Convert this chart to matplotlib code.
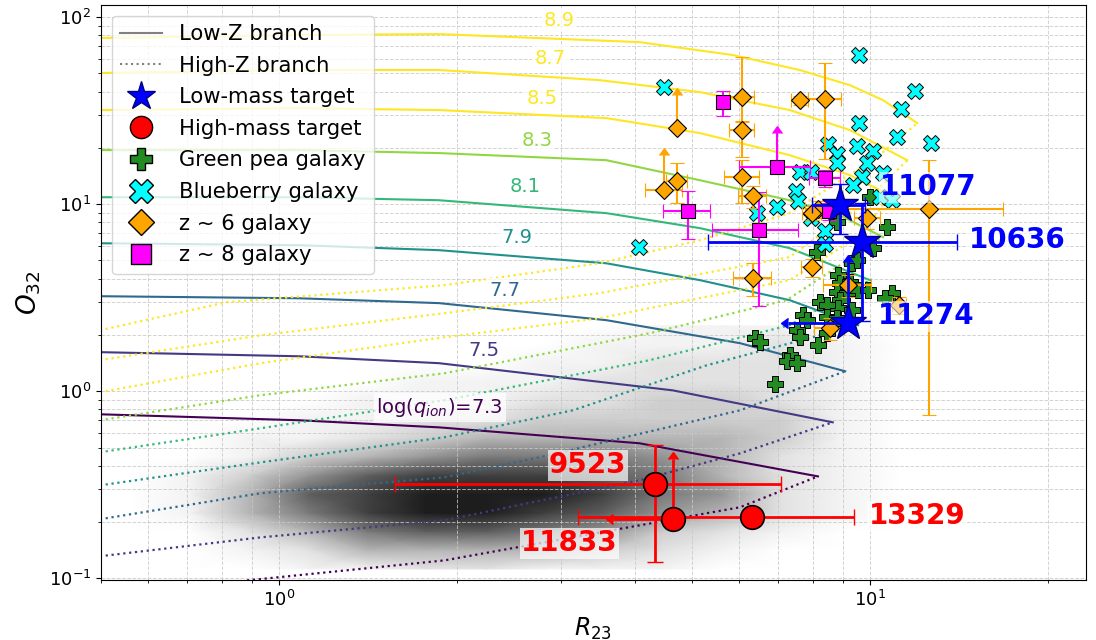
import numpy as np
import matplotlib
matplotlib.use("Agg")
import matplotlib.pyplot as plt
from matplotlib.lines import Line2D
from matplotlib.colors import Normalize

# ---------------- model grid (log values) ----------------
qion = [7.3, 7.5, 7.7, 7.9, 8.1, 8.3, 8.5, 8.7, 8.9]

lowz_logR23 = [
    [-0.303, 0.034, 0.271, 0.610, 0.912],
    [-0.303, 0.034, 0.271, 0.666, 0.937],
    [-0.303, 0.034, 0.271, 0.554, 0.780, 0.958],
    [-0.303, 0.034, 0.271, 0.554, 0.712, 0.864, 0.980],
    [-0.303, 0.034, 0.271, 0.554, 0.712, 0.864, 1.000],
    [-0.303, 0.034, 0.271, 0.554, 0.712, 0.864, 0.949, 1.022],
    [-0.303, 0.034, 0.271, 0.554, 0.712, 0.864, 0.966, 1.034],
    [-0.303, 0.034, 0.271, 0.542, 0.712, 0.864, 0.966, 1.063],
    [-0.303, 0.034, 0.271, 0.610, 0.768, 0.881, 0.966, 1.022, 1.080],
]
lowz_logO32 = [
    [-0.123, -0.155, -0.193, -0.278, -0.455],
    [0.209, 0.187, 0.150, 0.005, -0.166],
    [0.508, 0.497, 0.471, 0.380, 0.257, 0.107],
    [0.791, 0.781, 0.754, 0.684, 0.594, 0.487, 0.353],
    [1.037, 1.037, 1.021, 0.952, 0.872, 0.765, 0.594],
    [1.289, 1.289, 1.273, 1.235, 1.128, 1.021, 0.941, 0.824],
    [1.503, 1.513, 1.503, 1.460, 1.380, 1.262, 1.155, 1.048],
    [1.701, 1.717, 1.717, 1.663, 1.599, 1.503, 1.396, 1.235],
    [1.888, 1.904, 1.909, 1.866, 1.797, 1.717, 1.636, 1.556, 1.433],
]
highz_logR23 = [
    [-0.054, 0.280, 0.780, 0.912],
    [-0.303, -0.031, 0.280, 0.610, 0.780, 0.937],
    [-0.303, -0.031, 0.280, 0.441, 0.780, 0.958],
    [-0.303, -0.031, 0.280, 0.497, 0.724, 0.980],
    [-0.303, -0.031, 0.280, 0.627, 0.864, 1.000],
    [-0.303, -0.031, 0.280, 0.627, 0.859, 1.022],
    [-0.303, -0.031, 0.280, 0.542, 0.864, 0.983, 1.034],
    [-0.303, -0.031, 0.280, 0.542, 0.864, 0.995, 1.063],
    [-0.303, -0.088, 0.280, 0.542, 0.712, 0.864, 1.012, 1.080],
]
highz_logO32 = [
    [-1.011, -0.904, -0.620, -0.455],
    [-0.882, -0.781, -0.690, -0.476, -0.332, -0.166],
    [-0.684, -0.545, -0.460, -0.353, -0.102, 0.107],
    [-0.503, -0.380, -0.246, -0.102, 0.139, 0.353],
    [-0.326, -0.198, -0.048, 0.166, 0.353, 0.594],
    [-0.155, -0.021, 0.096, 0.310, 0.487, 0.824],
    [-0.005, 0.150, 0.289, 0.390, 0.594, 0.834, 1.048],
    [0.166, 0.299, 0.417, 0.524, 0.717, 1.021, 1.235],
    [0.326, 0.476, 0.567, 0.684, 0.807, 0.952, 1.251, 1.433],
]
label_R23 = [1.87, 2.22, 2.41, 2.53, 2.61, 2.73, 2.79, 2.88, 2.98]
label_O32 = [0.82, 1.66, 3.47, 6.66, 12.5, 22.0, 36.9, 60.4, 96.4]

# ---------------- SDSS-like background density (log R23 / log O32 cell centres) ----------------
hist_logR23 = [-0.25, -0.15, -0.05, 0.05, 0.15, 0.25, 0.35, 0.45, 0.55, 0.65, 0.75, 0.85, 0.95, 1.05, 1.15]
hist_logO32 = [-0.95, -0.85, -0.75, -0.65, -0.55, -0.45, -0.35, -0.25, -0.15, -0.05, 0.05, 0.15, 0.25, 0.35]
hist_rows = [
    "000112211100000",
    "001244443210000",
    "002467765321000",
    "014689987542100",
    "014789998652100",
    "013578887642100",
    "001345666542100",
    "001123444443100",
    "000112233333100",
    "000011122332100",
    "000001112222100",
    "000000011222100",
    "000000001112100",
    "000000000111000",
]

# ---------------- Green pea galaxies ----------------
gp_R23 = [8.13, 10.7, 10.1, 9.32, 9.50, 8.83, 8.89, 9.25, 8.79, 9.14, 9.55, 9.93, 8.89, 8.83,
          8.23, 8.46, 9.32, 7.70, 7.82, 8.45, 8.79, 7.52, 7.61, 8.17, 8.46, 6.38, 6.51, 7.31,
          7.23, 7.52, 6.90, 10.9, 10.0, 8.79, 10.6]
gp_O32 = [5.54, 7.53, 5.82, 4.83, 5.02, 4.17, 3.78, 3.83, 3.38, 3.34, 3.47, 3.47, 3.07, 2.78,
          2.99, 2.88, 2.71, 2.55, 2.40, 2.49, 2.46, 2.12, 1.94, 1.76, 2.04, 1.92, 1.83, 1.56,
          1.46, 1.41, 1.10, 3.34, 10.9, 8.01, 3.14]

# ---------------- Blueberry galaxies ----------------
bb_R23 = [4.48, 4.06, 9.6, 11.9, 11.3, 9.6, 11.1, 12.7, 8.5, 9.5, 10.1, 8.8, 8.8, 9.9,
          9.7, 9.35, 10.5, 7.6, 7.95, 7.5, 7.55, 6.95, 6.45, 7.95, 8.4, 8.4, 10.4, 10.9]
bb_O32 = [42.2, 5.89, 62.6, 40.2, 32.2, 27.1, 22.8, 21.2, 20.9, 20.4, 19.2, 18.5, 16.6, 16.6,
          13.9, 12.6, 14.7, 14.8, 14.8, 11.7, 10.4, 9.6, 8.95, 8.4, 7.2, 6.1, 10.9, 10.5]

# ---------------- z ~ 6 galaxies ----------------
z6_R23 = [6.07, 6.07, 6.07, 6.33, 7.61, 8.39, 4.71, 4.48, 4.71, 6.33, 7.97, 8.16, 7.97, 9.88, 9.18, 8.55, 12.6, 11.2]
z6_O32 = [37.3, 24.9, 13.9, 11.0, 36.0, 36.3, 25.5, 11.9, 13.3, 4.02, 4.60, 9.40, 9.00, 8.40, 3.69, 2.17, 9.45, 2.88]
z6_xerr = [0.30, 0.30, 0.41, 0.35, 0.25, 0.55, 0.0, 0.32, 0.20, 0.46, 0.34, 0.40, 0.30, 0.50, 0.85, 0.50, 4.2, 0.30]
z6_yerr_lo = [9.8, 7.1, 3.7, 1.5, 2.0, 18.9, 0.0, 0.0, 3.2, 0.8, 0.5, 1.0, 0.8, 1.0, 0.5, 0.3, 8.7, 0.3]
z6_yerr_hi = [23.8, 3.0, 3.3, 1.5, 2.0, 20.4, 12.8, 6.4, 3.2, 0.8, 0.5, 1.0, 0.8, 1.0, 0.5, 0.3, 7.7, 0.3]
z6_lolims = [False, False, False, False, False, False, True, True, False, False, False, False, False, False, False, False, False, False]

# ---------------- z ~ 8 galaxies ----------------
z8_R23 = [5.63, 6.96, 4.92, 6.48, 8.39, 8.52]
z8_O32 = [35.1, 15.8, 9.18, 7.26, 13.8, 9.2]
z8_xerr = [0.0, 0.95, 0.45, 1.07, 0.5, 0.4]
z8_yerr = [5.4, 8.2, 2.65, 4.4, 1.5, 1.0]
z8_lolims = [False, True, False, False, False, False]

# ---------------- targets ----------------
lm_names = ["11077", "10636", "11274"]
lm_R23 = [8.89, 9.69, 9.18]
lm_O32 = [9.88, 6.27, 2.31]
lm_xerr = [0.9, 4.37, 1.92]
lm_yerr = [2.95, 3.9, 2.6]
lm_xuplims = [False, False, True]
lm_lolims = [False, False, True]
lm_label_R23 = [10.4, 14.7, 10.3]
lm_label_O32 = [12.3, 6.42, 2.52]

hm_names = ["9523", "11833", "13329"]
hm_R23 = [4.32, 4.64, 6.31]
hm_O32 = [0.318, 0.207, 0.212]
hm_xerr = [2.75, 0.97, 3.1]
hm_yerr = [0.196, 0.23, 0.0]
hm_xuplims = [False, True, False]
hm_lolims = [False, True, False]
hm_label_R23 = [3.33, 3.10, 9.95]
hm_label_O32 = [0.402, 0.154, 0.215]
hm_label_ha = ["center", "center", "left"]


def color_errorbar(container, col, caret_size=7):
    _, caps, bars = container
    for cl in caps:
        cl.set_color(col)
        cl.set_markerfacecolor(col)
        cl.set_markeredgecolor(col)
        if cl.get_marker() not in ("|", "_"):
            cl.set_markersize(caret_size)
    for b in bars:
        b.set_color(col)


# ---------------- figure ----------------
fig = plt.figure(figsize=(10.96, 6.4), dpi=100)
ax = fig.add_axes([101 / 1096, 1 - 580 / 640, (1086 - 101) / 1096, 575 / 640])
ax.set_xscale("log")
ax.set_yscale("log")

# background density
dens = np.array([[int(c) for c in row] for row in hist_rows], dtype=float)
HX, HY = np.meshgrid(10 ** np.array(hist_logR23), 10 ** np.array(hist_logO32))
ax.pcolormesh(HX, HY, dens, cmap="Greys", vmin=0, vmax=10, shading="gouraud", zorder=0.5)

ax.grid(True, which="both", ls="--", color="#c8c8c8", lw=0.7, alpha=0.8)

cmap = plt.get_cmap("viridis")
norm = Normalize(7.3, 8.5, clip=True)
for i, q in enumerate(qion):
    c = cmap(norm(q))
    ax.plot(10 ** np.array(lowz_logR23[i]), 10 ** np.array(lowz_logO32[i]), "-", color=c, lw=1.5, zorder=2)
    ax.plot(10 ** np.array(highz_logR23[i]), 10 ** np.array(highz_logO32[i]), ":", color=c, lw=1.6, zorder=2)
    txt = r"log($q_{ion}$)=7.3" if i == 0 else f"{q:.1f}"
    ax.text(label_R23[i], label_O32[i], txt, color=c, fontsize=14, ha="center", va="center",
            bbox=dict(facecolor="white", edgecolor="none", alpha=0.75, pad=2), zorder=3)

# comparison samples
ax.plot(gp_R23, gp_O32, "P", ls="none", color="forestgreen", mec="k", mew=0.7, ms=12, zorder=4)
ax.plot(bb_R23, bb_O32, "X", ls="none", color="cyan", mec="k", mew=0.7, ms=11.5, zorder=4)
eb6 = ax.errorbar(z6_R23, z6_O32, xerr=z6_xerr, yerr=[z6_yerr_lo, z6_yerr_hi], lolims=z6_lolims,
                  fmt="D", color="orange", mfc="orange", mec="k", mew=0.8, ms=9, ecolor="orange",
                  elinewidth=1.5, capsize=5, zorder=5)
eb8 = ax.errorbar(z8_R23, z8_O32, xerr=z8_xerr, yerr=z8_yerr, lolims=z8_lolims,
                  fmt="s", color="magenta", mfc="magenta", mec="k", mew=0.8, ms=10, ecolor="magenta",
                  elinewidth=1.5, capsize=5, zorder=5)
color_errorbar(eb6, "orange")
color_errorbar(eb8, "magenta")

# targets
ebl = ax.errorbar(lm_R23, lm_O32, xerr=lm_xerr, yerr=lm_yerr, xuplims=lm_xuplims, lolims=lm_lolims,
                  fmt="none", ecolor="blue", color="blue", elinewidth=2, capsize=6, zorder=6)
color_errorbar(ebl, "blue")
ax.plot(lm_R23, lm_O32, "*", ls="none", color="blue", mec="navy", mew=1, ms=27, zorder=7)
ebh = ax.errorbar(hm_R23, hm_O32, xerr=hm_xerr, yerr=hm_yerr, xuplims=hm_xuplims, lolims=hm_lolims,
                  fmt="none", ecolor="red", color="red", elinewidth=2, capsize=6, zorder=6)
color_errorbar(ebh, "red")
ax.plot(hm_R23, hm_O32, "o", ls="none", color="red", mec="k", mew=1.2, ms=17, zorder=7)

for n, x, y in zip(lm_names, lm_label_R23, lm_label_O32):
    ax.text(x, y, n, color="blue", fontsize=20, fontweight="bold", ha="left", va="center",
            bbox=dict(facecolor="white", edgecolor="none", alpha=0.6, pad=1), zorder=8)
for n, x, y, ha in zip(hm_names, hm_label_R23, hm_label_O32, hm_label_ha):
    ax.text(x, y, n, color="red", fontsize=20, fontweight="bold", ha=ha, va="center",
            bbox=dict(facecolor="white", edgecolor="none", alpha=0.7, pad=1), zorder=8)

ax.set_xlim(0.5, 23.2)
ax.set_ylim(0.098, 116)
ax.set_xlabel(r"$R_{23}$", fontsize=17)
ax.set_ylabel(r"$O_{32}$", fontsize=19)
ax.tick_params(axis="both", which="major", labelsize=13)

handles = [
    Line2D([], [], color="gray", lw=1.5, ls="-"),
    Line2D([], [], color="gray", lw=1.5, ls=":"),
    Line2D([], [], marker="*", ls="none", color="blue", mec="navy", ms=21),
    Line2D([], [], marker="o", ls="none", color="red", mec="k", ms=16),
    Line2D([], [], marker="P", ls="none", color="forestgreen", mec="k", ms=16),
    Line2D([], [], marker="X", ls="none", color="cyan", mec="k", ms=17),
    Line2D([], [], marker="D", ls="none", color="orange", mec="k", ms=13),
    Line2D([], [], marker="s", ls="none", color="magenta", mec="k", ms=14),
]
labels = ["Low-Z branch", "High-Z branch", "Low-mass target", "High-mass target",
          "Green pea galaxy", "Blueberry galaxy", "z ~ 6 galaxy", "z ~ 8 galaxy"]
leg = ax.legend(handles, labels, loc="upper left", fontsize=15.2, handlelength=2.0,
                labelspacing=0.55)
leg.set_zorder(10)

fig.savefig("out.png", dpi=100)
